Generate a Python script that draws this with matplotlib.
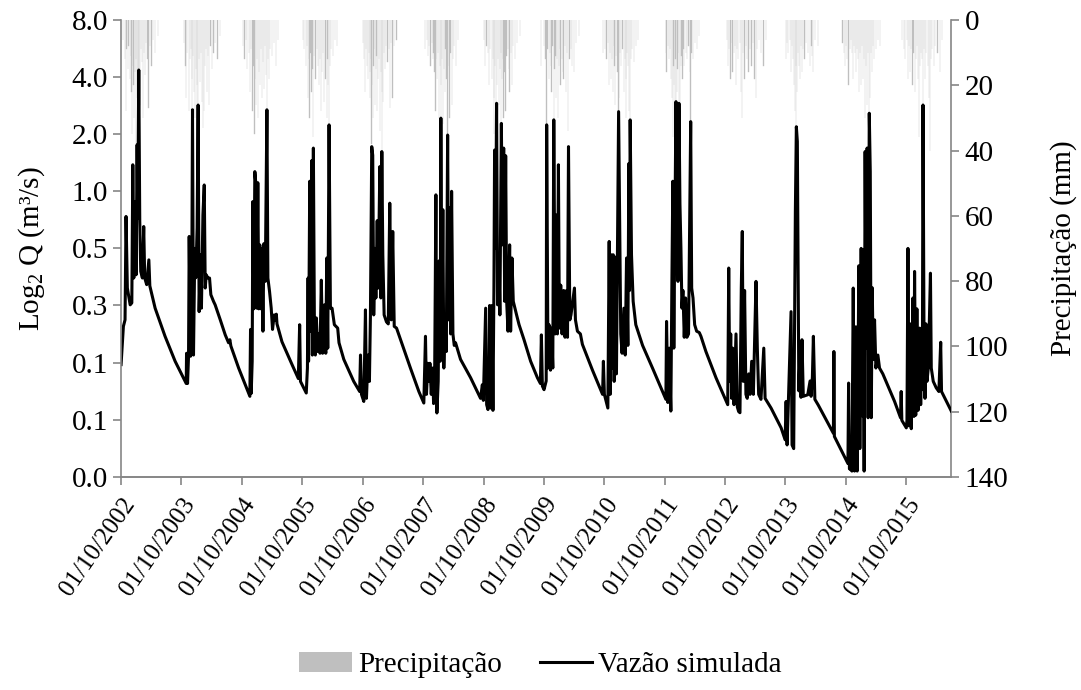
import numpy as np
import pandas as pd
import matplotlib
matplotlib.use('Agg')
import matplotlib.pyplot as plt
import matplotlib.dates as mdates
from matplotlib.ticker import NullLocator

plt.rcParams['font.family'] = ['Liberation Serif', 'DejaVu Serif']
plt.rcParams['mathtext.fontset'] = 'custom'
plt.rcParams['mathtext.rm'] = 'Liberation Serif'
plt.rcParams['mathtext.it'] = 'Liberation Serif:italic'

start = pd.Timestamp('2002-10-01')
end = pd.Timestamp('2016-06-30')

# simulated discharge (m3/s): (days since 01/10/2002, Q)
q_2002 = [(0, 0.122), (14, 0.194), (24, 0.21), (30, 0.737), (38, 0.309), (55, 0.252), (65, 0.258),
          (71, 1.38), (77, 0.349), (85, 0.883), (91, 0.363), (97, 1.76), (101, 0.72), (107, 4.36),
          (113, 0.70), (119, 0.378), (129, 0.349), (137, 0.652), (143, 0.349), (155, 0.322),
          (168, 0.435), (174, 0.317), (206, 0.242), (266, 0.172), (327, 0.127), (388, 0.0995)]
q_2003 = [(394, 0.097), (396, 0.14), (402, 0.097), (408, 0.135), (412, 0.578), (420, 0.135),
          (426, 0.149), (432, 2.69), (438, 0.137), (446, 0.50), (452, 0.35), (460, 0.64), (466, 2.85),
          (472, 0.232), (480, 0.463), (486, 0.242), (495, 0.75), (503, 1.08), (509, 0.309),
          (515, 0.363), (525, 0.349), (535, 0.349), (543, 0.285), (559, 0.263), (569, 0.252),
          (600, 0.21), (630, 0.175), (650, 0.159), (658, 0.165), (664, 0.153), (711, 0.117),
          (751, 0.0956), (779, 0.083)]
q_2004 = [(783, 0.187), (787, 0.086), (793, 0.127), (797, 0.883), (803, 0.24), (809, 1.27),
          (815, 1.10), (821, 0.242), (827, 1.11), (833, 0.24), (839, 0.522), (846, 0.24), (852, 0.50),
          (858, 0.183), (864, 0.53), (872, 0.335), (882, 2.69), (888, 0.349), (898, 0.296),
          (908, 0.242), (916, 0.187), (926, 0.223), (933, 0.21), (939, 0.225), (943, 0.2),
          (973, 0.161), (1034, 0.122), (1072, 0.103), (1080, 0.198), (1085, 0.0995), (1120, 0.0864)]
q_2005 = [(1127, 0.117), (1131, 0.349), (1134, 0.127), (1141, 1.13), (1147, 0.183), (1153, 1.45),
          (1157, 0.137), (1163, 1.69), (1169, 0.21), (1175, 0.137), (1181, 0.215), (1189, 0.143),
          (1195, 0.177), (1203, 0.14), (1211, 0.34), (1219, 0.14), (1230, 0.252), (1238, 0.14),
          (1244, 0.445), (1250, 0.149), (1258, 2.24), (1266, 0.242), (1276, 0.242), (1290, 0.198),
          (1310, 0.19), (1318, 0.159), (1347, 0.13), (1387, 0.109), (1407, 0.0995), (1443, 0.088),
          (1448, 0.137), (1454, 0.085), (1468, 0.078)]
q_2006 = [(1478, 0.237), (1484, 0.081), (1494, 0.137), (1502, 0.0995), (1508, 0.22), (1516, 1.72),
          (1522, 1.55), (1528, 0.223), (1535, 0.50), (1541, 0.274), (1549, 0.70), (1555, 0.309),
          (1565, 1.35), (1571, 0.274), (1577, 1.62), (1583, 0.463), (1591, 0.223), (1605, 0.205),
          (1616, 0.2), (1625, 0.866), (1634, 0.21), (1643, 0.614), (1652, 0.194), (1666, 0.19),
          (1700, 0.156), (1750, 0.117), (1801, 0.088), (1831, 0.0765)]
q_2007 = [(1841, 0.172), (1847, 0.085), (1855, 0.124), (1861, 0.0995), (1868, 0.124), (1876, 0.085),
          (1884, 0.117), (1890, 0.076), (1896, 0.0918), (1904, 0.958), (1910, 0.0678), (1918, 0.0995),
          (1924, 0.43), (1930, 0.127), (1934, 2.43), (1940, 0.149), (1946, 0.80), (1952, 0.117),
          (1958, 0.21), (1967, 0.143), (1975, 1.98), (1981, 0.21), (1987, 0.82), (1993, 0.177),
          (1999, 1.0), (2007, 0.177), (2015, 0.154), (2023, 0.159), (2053, 0.13), (2114, 0.104),
          (2174, 0.081), (2185, 0.0956), (2191, 0.079), (2205, 0.242), (2211, 0.075), (2219, 0.0707)]
q_2008 = [(2225, 0.088), (2229, 0.25), (2235, 0.072), (2243, 0.25), (2249, 0.07), (2255, 0.31),
          (2259, 1.65), (2265, 0.50), (2271, 2.91), (2277, 0.252), (2285, 0.463), (2291, 0.223),
          (2300, 2.28), (2306, 0.522), (2314, 1.69), (2320, 0.263), (2326, 1.54), (2332, 0.263),
          (2340, 0.183), (2350, 0.522), (2356, 0.183), (2364, 0.445), (2372, 0.263), (2382, 0.242),
          (2392, 0.223), (2407, 0.198), (2437, 0.165), (2477, 0.127), (2518, 0.104), (2536, 0.097),
          (2542, 0.175), (2548, 0.094), (2558, 0.09)]
q_2009 = [(2571, 0.1), (2574, 2.24), (2582, 0.117), (2588, 0.198), (2597, 0.114), (2604, 0.19),
          (2611, 0.117), (2617, 2.38), (2625, 0.177), (2633, 0.75), (2639, 0.177), (2645, 1.38),
          (2651, 0.19), (2659, 0.32), (2667, 0.177), (2677, 0.30), (2685, 0.17), (2694, 0.30),
          (2700, 0.17), (2706, 1.72), (2714, 0.21), (2721, 0.223), (2742, 0.309), (2748, 0.21),
          (2760, 0.183), (2778, 0.177), (2790, 0.156), (2851, 0.114), (2912, 0.085), (2917, 0.127),
          (2923, 0.085)]
q_2010 = [(2944, 0.072), (2952, 0.544), (2958, 0.085), (2964, 0.463), (2970, 0.117), (2976, 0.463),
          (2982, 0.0995), (2990, 0.45), (2996, 0.109), (3009, 2.63), (3015, 0.75), (3022, 0.177),
          (3030, 0.14), (3041, 0.242), (3049, 0.137), (3057, 0.445), (3065, 0.154), (3071, 1.4),
          (3075, 0.3), (3079, 2.38), (3087, 0.463), (3097, 0.263), (3113, 0.198), (3154, 0.154),
          (3214, 0.117), (3275, 0.088), (3295, 0.08), (3299, 0.206), (3307, 0.077), (3315, 0.149),
          (3325, 0.0694)]
q_2011 = [(3331, 0.309), (3337, 1.13), (3343, 0.149), (3350, 0.75), (3356, 2.97), (3362, 0.883),
          (3368, 0.335), (3374, 2.91), (3380, 0.86), (3386, 0.50), (3392, 0.242), (3398, 0.30),
          (3406, 0.17), (3414, 0.274), (3422, 0.17), (3432, 0.177), (3445, 2.33), (3451, 0.309),
          (3459, 0.274), (3469, 0.198), (3481, 0.183), (3497, 0.18), (3507, 0.172), (3537, 0.143),
          (3598, 0.104), (3669, 0.075)]
q_2012 = [(3675, 0.394), (3681, 0.0995), (3687, 0.177), (3693, 0.081), (3699, 0.149), (3707, 0.075),
          (3713, 0.117), (3719, 0.177), (3727, 0.073), (3735, 0.069), (3743, 0.068), (3751, 0.309),
          (3757, 0.614), (3763, 0.0995), (3771, 0.30), (3779, 0.085), (3787, 0.081), (3796, 0.109),
          (3804, 0.085), (3814, 0.127), (3824, 0.085), (3832, 0.165), (3840, 0.335), (3848, 0.149),
          (3856, 0.085), (3870, 0.08), (3887, 0.149), (3895, 0.081), (3931, 0.072), (3992, 0.0566)]
q_2013 = [(4016, 0.049), (4022, 0.078), (4028, 0.046), (4052, 0.232), (4058, 0.046), (4068, 0.044),
          (4074, 0.263), (4078, 0.78), (4084, 2.19), (4090, 1.83), (4099, 0.0887), (4107, 0.149),
          (4112, 0.082), (4118, 0.165), (4126, 0.083), (4153, 0.0846), (4167, 0.10), (4173, 0.083),
          (4181, 0.105), (4187, 0.172), (4196, 0.08), (4217, 0.0745), (4308, 0.053), (4311, 0.143),
          (4314, 0.051), (4396, 0.0367), (4400, 0.0975), (4405, 0.0344)]
q_2014 = [(4408, 0.0345), (4420, 0.0335), (4428, 0.309), (4436, 0.0335), (4444, 0.193), (4452, 0.0335),
          (4462, 0.405), (4468, 0.044), (4476, 0.50), (4482, 0.0655), (4488, 0.49), (4494, 0.0335),
          (4500, 1.62), (4506, 0.149), (4512, 1.69), (4518, 0.064), (4525, 2.58), (4531, 1.27),
          (4537, 0.064), (4543, 0.31), (4549, 0.13), (4557, 0.21), (4565, 0.117), (4577, 0.137),
          (4587, 0.117), (4607, 0.109), (4678, 0.078), (4714, 0.064), (4718, 0.088), (4722, 0.062),
          (4749, 0.0566)]
q_2015 = [(4753, 0.062), (4759, 0.50), (4765, 0.058), (4773, 0.20), (4779, 0.056), (4789, 0.274),
          (4795, 0.065), (4799, 0.378), (4806, 0.066), (4813, 0.24), (4820, 0.07), (4830, 0.19),
          (4836, 0.075), (4842, 0.177), (4846, 0.09), (4850, 2.85), (4856, 0.172), (4862, 0.081),
          (4868, 0.20), (4874, 0.0995), (4882, 0.117), (4895, 0.37), (4900, 0.117), (4912, 0.0995),
          (4930, 0.092), (4946, 0.088), (4957, 0.16), (4962, 0.088), (5021, 0.0694)]

# daily rainfall (mm): (day of hydrological year counted from 1 October, P)
rain_2002 = [(14, 6), (22, 12), (29, 28), (33, 9), (41, 15), (45, 8), (52, 18), (58, 11), (63, 22),
             (66, 35), (70, 14), (75, 20), (79, 30), (84, 16), (88, 12), (92, 38), (96, 24), (101, 18),
             (104, 42), (106, 30), (110, 15), (115, 26), (121, 9), (128, 13), (134, 30), (139, 10),
             (146, 17), (152, 7), (160, 12), (166, 27), (175, 8), (184, 14), (195, 6), (207, 10), (222, 5)]
rain_2003 = [(18, 7), (25, 14), (30, 24), (36, 10), (44, 28), (50, 12), (56, 9), (63, 18), (66, 40),
             (72, 11), (78, 22), (80, 30), (86, 15), (93, 20), (96, 26), (100, 38), (106, 12), (112, 19),
             (117, 10), (124, 25), (129, 33), (136, 28), (141, 14), (148, 9), (155, 22), (162, 11),
             (169, 26), (176, 8), (185, 15), (194, 10), (205, 7), (218, 12), (232, 5)]
rain_2004 = [(6, 8), (15, 12), (24, 6), (33, 15), (41, 10), (50, 22), (55, 9), (64, 28), (70, 14),
             (76, 35), (80, 18), (83, 26), (90, 12), (95, 30), (101, 16), (107, 20), (113, 9), (119, 24),
             (126, 13), (132, 21), (138, 8), (145, 17), (150, 40), (156, 12), (163, 18), (170, 9),
             (180, 11), (192, 7), (206, 14), (220, 6)]
rain_2005 = [(2, 6), (12, 9), (22, 14), (30, 8), (34, 24), (40, 12), (44, 30), (50, 10), (56, 22),
             (62, 15), (66, 36), (72, 11), (80, 18), (88, 9), (95, 14), (102, 20), (108, 12), (114, 28),
             (120, 16), (127, 10), (133, 25), (140, 18), (147, 30), (152, 12), (158, 20), (161, 42),
             (168, 14), (176, 9), (186, 11), (198, 6), (212, 8)]
rain_2006 = [(4, 7), (10, 12), (16, 22), (21, 9), (27, 14), (32, 18), (37, 10), (43, 16), (47, 24),
             (51, 12), (54, 38), (58, 20), (61, 30), (66, 14), (70, 9), (74, 26), (79, 15), (84, 11),
             (88, 28), (93, 18), (99, 12), (104, 34), (109, 16), (115, 40), (118, 22), (122, 25),
             (128, 10), (135, 15), (142, 8), (150, 13), (158, 9), (163, 27), (170, 7), (181, 24),
             (192, 8), (205, 6)]
rain_2007 = [(14, 9), (22, 6), (30, 11), (38, 8), (45, 14), (52, 7), (58, 12), (64, 10), (70, 16),
             (76, 28), (80, 12), (86, 18), (92, 10), (97, 30), (102, 14), (107, 42), (111, 20), (116, 12),
             (120, 32), (125, 15), (131, 22), (136, 9), (142, 18), (148, 38), (153, 14), (160, 30),
             (166, 10), (174, 26), (182, 12), (190, 8), (200, 14), (212, 6)]
rain_2008 = [(2, 6), (10, 14), (18, 8), (26, 10), (35, 20), (40, 9), (49, 18), (55, 12), (61, 24),
             (65, 35), (70, 14), (77, 40), (82, 20), (88, 12), (92, 26), (98, 15), (104, 10), (107, 36),
             (112, 18), (118, 12), (121, 30), (127, 16), (133, 28), (139, 11), (146, 9), (152, 15),
             (157, 22), (164, 10), (171, 20), (180, 8), (192, 12), (205, 7), (220, 5), (350, 14)]
rain_2009 = [(3, 8), (10, 12), (16, 32), (22, 9), (30, 18), (36, 10), (42, 14), (46, 22), (52, 8),
             (59, 40), (64, 15), (70, 11), (75, 24), (81, 12), (87, 30), (92, 14), (98, 9), (101, 20),
             (108, 12), (114, 16), (119, 18), (126, 8), (136, 22), (142, 10), (148, 34), (155, 12),
             (163, 9), (172, 14), (184, 16), (196, 7), (210, 5), (360, 10)]
rain_2010 = [(6, 9), (14, 12), (22, 7), (29, 20), (35, 10), (41, 18), (47, 12), (53, 22), (58, 8),
             (62, 14), (67, 26), (73, 11), (80, 16), (86, 42), (91, 24), (97, 10), (104, 14), (111, 9),
             (118, 22), (124, 12), (130, 18), (134, 30), (140, 10), (146, 14), (150, 28), (156, 45),
             (162, 12), (170, 9), (180, 13), (192, 8), (206, 6)]
rain_2011 = [(8, 10), (12, 16), (20, 8), (27, 12), (34, 9), (40, 18), (44, 24), (49, 36), (54, 14),
             (58, 20), (63, 30), (66, 12), (69, 46), (74, 22), (78, 15), (82, 10), (87, 44), (92, 28),
             (97, 14), (102, 11), (108, 18), (114, 9), (120, 14), (128, 10), (136, 12), (145, 8),
             (152, 16), (157, 34), (163, 10), (172, 12), (184, 7), (196, 9), (210, 5)]
rain_2012 = [(10, 6), (20, 14), (25, 9), (33, 18), (38, 7), (45, 16), (52, 10), (60, 8), (65, 20),
             (72, 9), (80, 12), (88, 7), (97, 22), (103, 30), (110, 10), (117, 18), (124, 8), (132, 12),
             (142, 16), (150, 9), (160, 14), (168, 7), (178, 18), (186, 24), (194, 9), (205, 6),
             (218, 10), (232, 14), (245, 6)]
rain_2013 = [(3, 12), (10, 7), (18, 10), (26, 6), (33, 16), (40, 8), (47, 12), (54, 20), (58, 28),
             (62, 14), (65, 34), (70, 22), (76, 10), (82, 14), (88, 18), (94, 8), (99, 16), (106, 9),
             (115, 12), (124, 7), (134, 10), (148, 14), (158, 8), (162, 11), (168, 16), (180, 6),
             (195, 8), (345, 7), (356, 10), (362, 14)]
rain_2014 = [(2, 8), (9, 12), (16, 20), (24, 9), (31, 6), (38, 10), (44, 18), (50, 8), (56, 10),
             (60, 16), (66, 9), (72, 12), (78, 22), (84, 10), (92, 20), (97, 8), (104, 18), (110, 12),
             (116, 30), (122, 14), (128, 26), (134, 10), (140, 32), (146, 24), (152, 10), (159, 16),
             (166, 8), (173, 12), (182, 9), (194, 6), (208, 8), (338, 6), (352, 9), (360, 12)]
rain_2015 = [(4, 6), (10, 18), (16, 8), (24, 16), (30, 9), (38, 20), (45, 10), (53, 22), (58, 12),
             (64, 8), (70, 18), (76, 36), (82, 14), (88, 10), (95, 12), (101, 38), (108, 9), (116, 18),
             (122, 10), (130, 14), (138, 24), (142, 40), (150, 12), (158, 9), (166, 14), (176, 8),
             (190, 10), (204, 16), (215, 6)]

q_ticks = [2.0 ** k for k in range(-5, 4)]
q_tick_labels = ['0.0', '0.1', '0.1', '0.3', '0.5', '1.0', '2.0', '4.0', '8.0']
p_ticks = [0, 20, 40, 60, 80, 100, 120, 140]

flow = (q_2002 + q_2003 + q_2004 + q_2005 + q_2006 + q_2007 + q_2008 + q_2009 +
        q_2010 + q_2011 + q_2012 + q_2013 + q_2014 + q_2015)
q_days = np.array([d for d, v in flow])
q_vals = np.array([v for d, v in flow])
q_dates = start + pd.to_timedelta(q_days, unit='D')

seasons = {2002: rain_2002, 2003: rain_2003, 2004: rain_2004, 2005: rain_2005, 2006: rain_2006,
           2007: rain_2007, 2008: rain_2008, 2009: rain_2009, 2010: rain_2010, 2011: rain_2011,
           2012: rain_2012, 2013: rain_2013, 2014: rain_2014, 2015: rain_2015}
p_dates, p_vals = [], []
for year, events in seasons.items():
    s0 = pd.Timestamp('%d-10-01' % year)
    for d, p in events:
        p_dates.append(s0 + pd.Timedelta(days=d))
        p_vals.append(p)

grey = '#868686'
fs = 21
fig, ax = plt.subplots(figsize=(10.81, 6.90), dpi=100)
fig.subplots_adjust(left=0.112, right=0.880, top=0.971, bottom=0.309)
ax2 = ax.twinx()

bars = ax2.bar(p_dates, p_vals, width=1.0, color='#bfbfbf', edgecolor='#bfbfbf',
               linewidth=0.25, label='Precipitação')
ax2.set_ylim(140, 0)
ax2.set_yticks(p_ticks)
ax2.set_ylabel('Precipitação (mm)', fontsize=fs, labelpad=30)

line, = ax.plot(q_dates, q_vals, color='black', lw=2.2, label='Vazão simulada')
ax.set_yscale('log', base=2)
ax.set_ylim(q_ticks[0], q_ticks[-1])
ax.set_yticks(q_ticks)
ax.set_yticklabels(q_tick_labels)
ax.yaxis.set_minor_locator(NullLocator())
ax.set_ylabel(r'Log$_2$ Q (m³/s)', fontsize=fs, labelpad=18)

# flow on top of the rainfall bars
ax.set_zorder(ax2.get_zorder() + 1)
ax.patch.set_visible(False)

ax.set_xlim(start, end)
ax.xaxis.set_major_locator(mdates.YearLocator(1, month=10, day=1))
ax.xaxis.set_major_formatter(mdates.DateFormatter('%d/%m/%Y'))

for a in (ax, ax2):
    a.spines['top'].set_visible(False)
    for s in ('left', 'right', 'bottom'):
        a.spines[s].set_color(grey)
        a.spines[s].set_linewidth(1.2)
    a.tick_params(axis='both', direction='out', length=6, width=1.2, color=grey, labelsize=fs)
ax.spines['right'].set_visible(False)
ax2.spines['left'].set_visible(False)
ax.tick_params(axis='x', pad=6, labelsize=18)
for lbl in ax.get_xticklabels():
    lbl.set_rotation(55)
    lbl.set_ha('right')
    lbl.set_rotation_mode('anchor')

leg = fig.legend(handles=[bars, line], labels=['Precipitação', 'Vazão simulada'], loc='center',
                 bbox_to_anchor=(0.5, 0.036), ncol=2, frameon=False, fontsize=fs,
                 handlelength=1.8, handletextpad=0.2, columnspacing=1.3)
leg.legend_handles[0].set_linewidth(0)

fig.savefig('out.png', dpi=100)
